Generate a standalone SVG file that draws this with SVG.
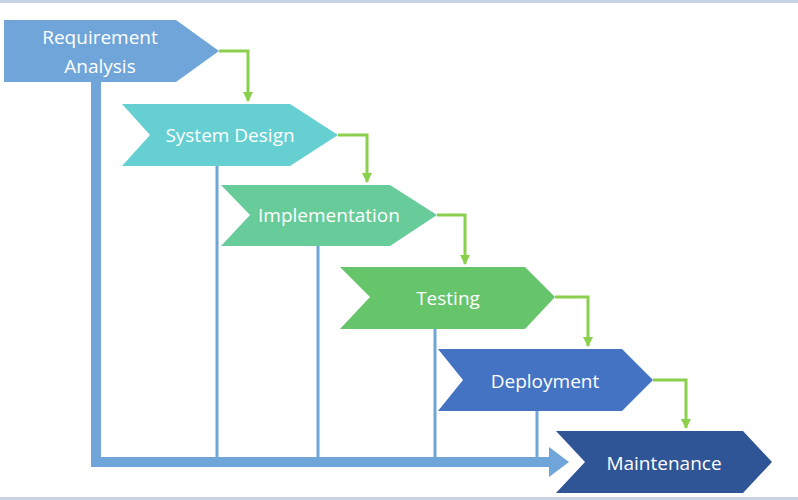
<svg xmlns="http://www.w3.org/2000/svg" width="798" height="500" viewBox="0 0 798 500">
<defs>
<marker id="g" viewBox="0 0 10 10" refX="9" refY="5" markerWidth="3.5" markerHeight="3.5" orient="auto" markerUnits="strokeWidth"><path d="M0,0L10,5L0,10z" fill="#8BD04C"/></marker>
<style>
.t{font-family:"Open Sans","Liberation Sans",sans-serif;font-size:19px;fill:#fff;text-anchor:middle}
.c{fill:none;stroke:#8BD04C;stroke-width:3}
.v{stroke:#6FA5D8;stroke-width:3;fill:none}
</style>
</defs>
<rect width="798" height="500" fill="#fff"/>
<rect x="0" y="0" width="798" height="3" fill="#C8D2E4"/>
<rect x="0" y="497" width="798" height="3" fill="#C8D2E4"/>
<g id="connectors">
<path class="c" d="M219,51H248V101" marker-end="url(#g)"/>
<path class="c" d="M338,135H367V182" marker-end="url(#g)"/>
<path class="c" d="M437,215H465V264" marker-end="url(#g)"/>
<path class="c" d="M555,297H588V346" marker-end="url(#g)"/>
<path class="c" d="M653,380H686V428" marker-end="url(#g)"/>
<path class="v" d="M217,166V462M318,246V462M435,329V462M537,411V462"/>
<path d="M96,82V462H552" stroke="#6FA5D8" stroke-width="10" fill="none"/>
<path d="M549,447L569,462L549,477z" fill="#6FA5D8"/>
</g>
<g id="requirement"><path d="M4,20H176L219,51L176,82H4z" fill="#6FA5D8"/><text class="t" x="100" y="44">Requirement</text><text class="t" x="100" y="73">Analysis</text></g>
<g id="design"><path d="M122,104H290L338,135L290,166H122L150,135z" fill="#66CFD2"/><text class="t" x="230" y="142">System Design</text></g>
<g id="implementation"><path d="M221,185H390L437,215L390,246H221L250,215z" fill="#68CC9A"/><text class="t" x="329" y="222">Implementation</text></g>
<g id="testing"><path d="M340,267H525L555,297L525,329H340L370,297z" fill="#66C46A"/><text class="t" x="448" y="305">Testing</text></g>
<g id="deployment"><path d="M438,349H622L653,380L622,411H438L463,380z" fill="#4473C4"/><text class="t" x="545" y="388">Deployment</text></g>
<g id="maintenance"><path d="M556,431H743L772,462L743,493H556L585,462z" fill="#2F5597"/><text class="t" x="664" y="470">Maintenance</text></g>
</svg>
